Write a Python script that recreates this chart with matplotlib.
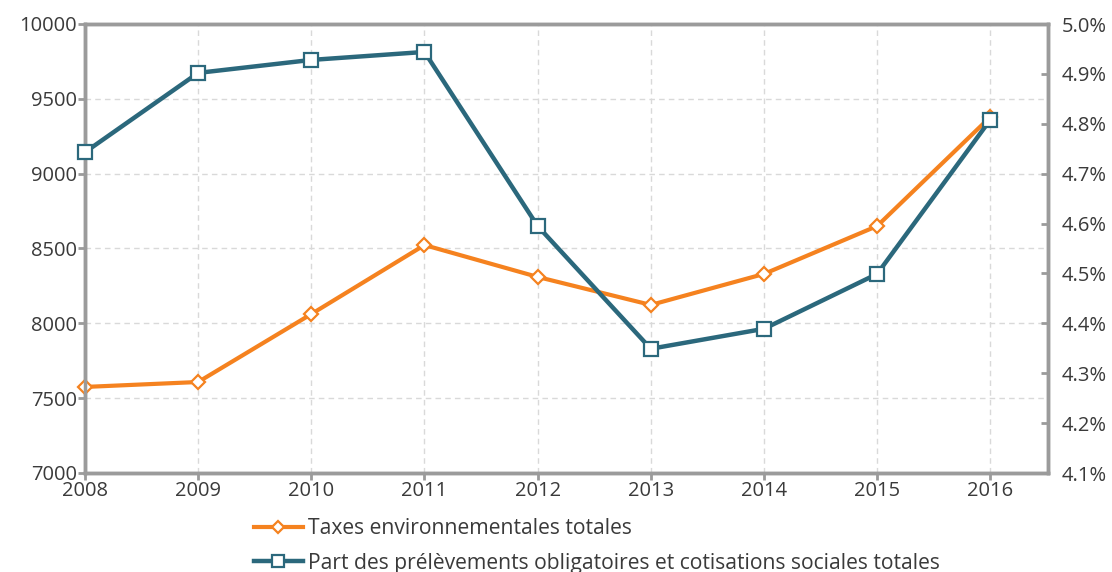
import numpy as np
import matplotlib.pyplot as plt
from matplotlib.ticker import FuncFormatter

years = [2008, 2009, 2010, 2011, 2012, 2013, 2014, 2015, 2016]
taxes = [7575, 7608, 8062, 8523, 8310, 8123, 8330, 8650, 9379]
part = [4.743, 4.902, 4.928, 4.944, 4.595, 4.349, 4.389, 4.499, 4.808]

orange = '#F5821F'
blue = '#2B687C'
spine_col = '#9B9B9B'
grid_col = '#D9D9D9'
txt_col = '#3A3A3A'

plt.rcParams['font.family'] = ['Open Sans', 'DejaVu Sans']

fig = plt.figure(figsize=(11.12, 5.72), dpi=100)
ax = fig.add_axes([85 / 1112, 1 - 473 / 572, (1048 - 85) / 1112, (473 - 24) / 572])
ax2 = ax.twinx()

l1, = ax.plot(years, taxes, color=orange, lw=3, marker='D', ms=7,
              mfc='white', mec=orange, mew=1.6, zorder=3, clip_on=False,
              label='Taxes environnementales totales')
l2, = ax2.plot(years, part, color=blue, lw=3.2, marker='s', ms=10,
               mfc='white', mec=blue, mew=1.6, zorder=3, clip_on=False,
               label='Part des prélèvements obligatoires et cotisations sociales totales')

ax.set_xlim(2008, 2016.51)
ax.set_ylim(7000, 10000)
ax2.set_ylim(4.1, 5.0)
ax.set_xticks(years)
ax.set_yticks(np.arange(7000, 10001, 500))
ax2.set_yticks(np.arange(4.1, 5.001, 0.1))
ax2.yaxis.set_major_formatter(FuncFormatter(lambda v, p: f'{v:.1f}%'))

ax.grid(True, color=grid_col, linestyle=(0, (4, 3)), lw=1)
ax.set_axisbelow(True)

for a in (ax, ax2):
    for s in a.spines.values():
        s.set_color(spine_col)
        s.set_linewidth(2.5)
ax.tick_params(axis='both', colors=spine_col, labelcolor=txt_col, labelsize=14.5,
               width=2, length=5, pad=1)
ax.tick_params(axis='x', pad=1)
ax2.tick_params(axis='y', direction='in', colors=spine_col, labelcolor=txt_col,
                labelsize=14.5, width=2, length=5, pad=10)

fig.legend(handles=[l1, l2], loc='upper left', bbox_to_anchor=(254 / 1112, 1 - 518 / 572),
           frameon=False, fontsize=15.2, handlelength=2.3, handletextpad=0.25,
           labelspacing=0.65, labelcolor=txt_col, borderaxespad=0, borderpad=0,
           markerscale=0.85)

fig.savefig('out.png', dpi=100)
